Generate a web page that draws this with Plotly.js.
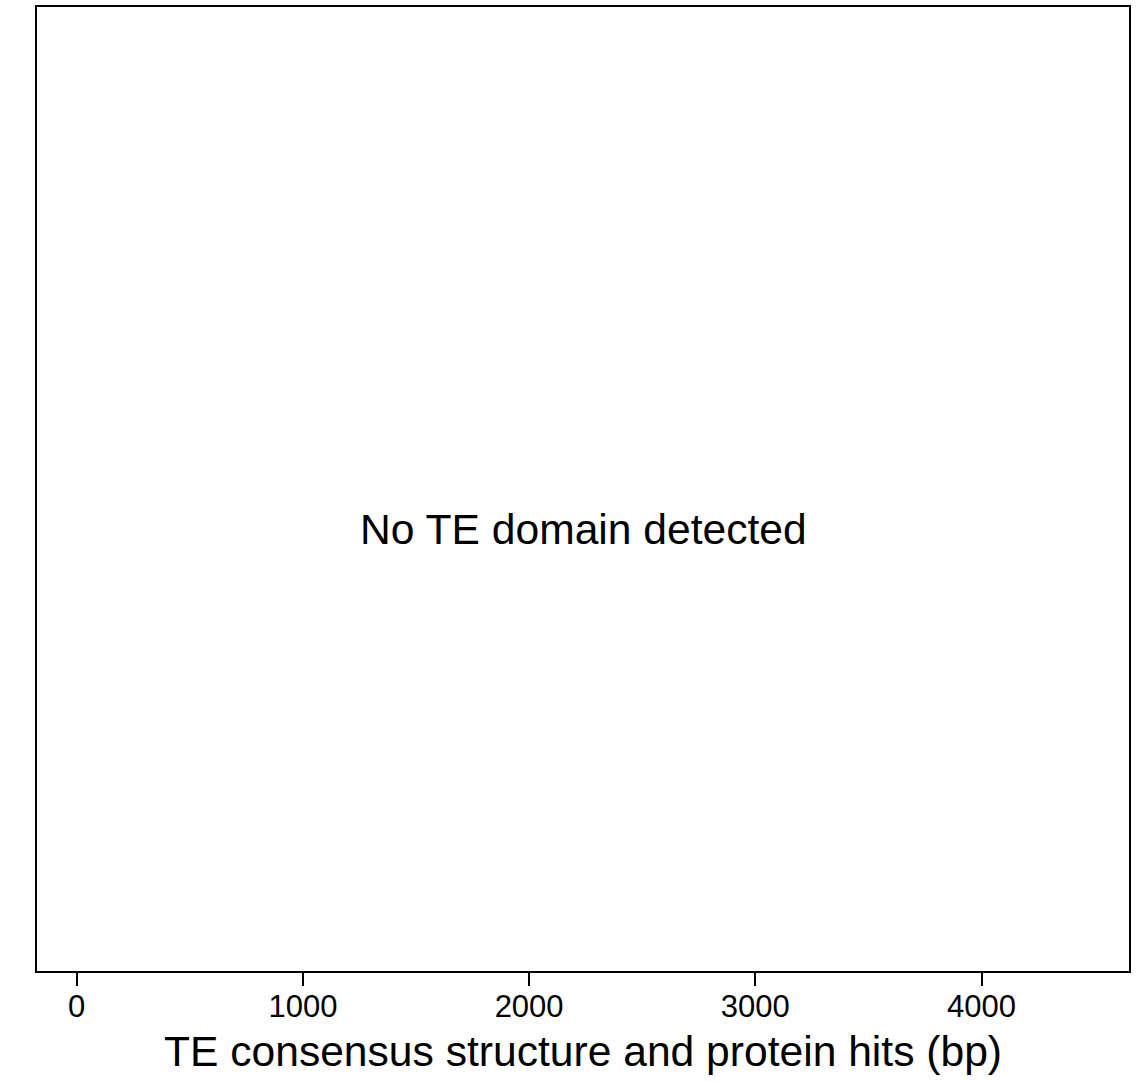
<!DOCTYPE html>
<html>
<head>
<meta charset="utf-8">
<script src="https://cdn.plot.ly/plotly-3.0.1.min.js"></script>
<style>
html,body{margin:0;padding:0;background:#fff;}
#chart{width:1142px;height:1082px;}
</style>
</head>
<body>
<div id="chart"></div>
<script>
// Axis data (bp)
const xTickVals = [0, 1000, 2000, 3000, 4000];
const xTickText = ["0", "1000", "2000", "3000", "4000"];
const consensusRange = [1, 4471];   // consensus length span (bp)
const xAxisRange = [-175.5, 4652];
const messageText = "No TE domain detected";
const xTitle = "TE consensus structure and protein hits (bp)";

const FONT = "Liberation Sans, Arial, Helvetica, sans-serif";

const traces = [{
  x: consensusRange,
  y: [0, 0],
  type: "scatter",
  mode: "markers",
  marker: {opacity: 0},
  hoverinfo: "skip",
  showlegend: false
}];

const layout = {
  width: 1142,
  height: 1082,
  margin: {l: 37, r: 13, t: 7, b: 111},
  paper_bgcolor: "#ffffff",
  plot_bgcolor: "#ffffff",
  font: {family: FONT, color: "#000000"},
  showlegend: false,
  xaxis: {
    range: xAxisRange,
    tickvals: xTickVals,
    ticktext: xTickText,
    ticks: "outside",
    ticklen: 13,
    tickwidth: 2,
    tickcolor: "#000",
    ticklabelstandoff: -6,
    tickfont: {family: FONT, size: 31, color: "#000"},
    showline: true,
    linecolor: "#000",
    linewidth: 2,
    mirror: true,
    showgrid: false,
    zeroline: false,
    title: {text: xTitle, font: {family: FONT, size: 42.6, color: "#000"}, standoff: 13}
  },
  yaxis: {
    range: [0, 1],
    showticklabels: false,
    ticks: "",
    showline: true,
    linecolor: "#000",
    linewidth: 2,
    mirror: true,
    showgrid: false,
    zeroline: false
  },
  annotations: [{
    text: messageText,
    xref: "paper", yref: "paper",
    x: 0.5, y: 0.4585,
    xanchor: "center", yanchor: "middle",
    showarrow: false,
    font: {family: FONT, size: 42.6, color: "#000"}
  }]
};

Plotly.newPlot("chart", traces, layout, {staticPlot: true, displayModeBar: false});
</script>
</body>
</html>
